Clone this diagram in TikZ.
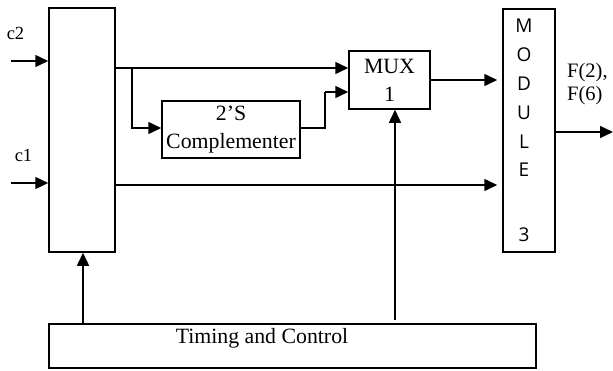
\documentclass[tikz,border=0pt]{standalone}
\usepackage{fontspec}
\setmainfont{Liberation Serif}
\newfontfamily\modfont{Open Sans}
\usetikzlibrary{arrows.meta}
\begin{document}
\begin{tikzpicture}[x=1pt,y=-1pt,
  box/.style={draw, line width=1.5pt, inner sep=0pt},
  arr/.style={line width=1.5pt, -{Triangle[length=13pt,width=12pt]}},
  ln/.style={line width=1.5pt},
  txt/.style={font=\fontsize{21.8}{28}\selectfont, inner sep=0pt, align=center},
  lbl/.style={font=\fontsize{18.5}{22}\selectfont, inner sep=0pt},
  modl/.style={font=\modfont\fontsize{19}{20}\selectfont, inner sep=0pt}]
\useasboundingbox (0,0) rectangle (613,370);
% blocks
\node[box, minimum width=66pt, minimum height=244pt] (L) at (82,130) {};
\node[box, minimum width=81pt, minimum height=58pt, txt] (M) at (389.5,80) {MUX\\1};
\node[box, minimum width=138pt, minimum height=57pt, txt] (C) at (231,129.5) {2’S\\Complementer};
\node[box, minimum width=52pt, minimum height=243pt] (D) at (529,130.5) {};
\node[box, minimum width=487pt, minimum height=44pt] (T) at (292.5,346) {};
\node[txt] (Tt) at (262,338) {Timing and Control};
% module letters
\node[modl] (m1) at (524,25.5) {M};
\node[modl] (m2) at (524,55) {O};
\node[modl] (m3) at (524,84) {D};
\node[modl] (m4) at (524,113) {U};
\node[modl] (m5) at (524,142) {L};
\node[modl] (m6) at (524,170) {E};
\node[modl] (m7) at (524,235) {3};
% labels
\node[lbl] (c2) at (15.5,33) {c2};
\node[lbl] (c1) at (23.5,155) {c1};
\node[txt, font=\fontsize{20.5}{23}\selectfont, align=left, anchor=west] (F) at (567,84.5) {F(2),\\F(6)};
% coordinates
\coordinate (c2in) at (11,61);
\coordinate (c1in) at (11,183);
\coordinate (br) at (132,68);
\coordinate (k1) at (325,128);
\coordinate (k2) at (325,92);
\coordinate (out) at (613,132);
% connectors
\draw[arr] (c2in) -- (c2in -| L.west);
\draw[arr] (c1in) -- (c1in -| L.west);
\draw[arr] (L.east |- br) -- (M.west |- br);
\draw[arr] (br) |- (C.west |- k1);
\draw[ln] (C.east |- k1) -- (k1) -- (k2);
\draw[arr] (k2) -- (M.west |- k2);
\draw[arr, shorten >=5pt] (L.east |- 0,185) -- (D.west |- 0,185);
\draw[arr, shorten >=5pt] (M.east |- 0,80) -- (D.west |- 0,80);
\draw[arr] (D.east |- out) -- (out);
\draw[arr] (T.north -| 83,0) -- (L.south -| 83,0);
\draw[arr, shorten <=3pt] (T.north -| 395,0) -- (M.south -| 395,0);
\end{tikzpicture}
\end{document}
